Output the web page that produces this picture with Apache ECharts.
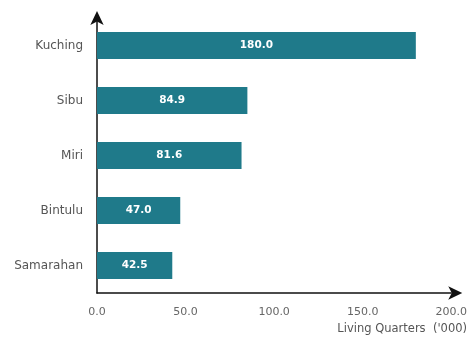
<!DOCTYPE html>
<html>
<head>
<meta charset="utf-8">
<script src="https://cdn.jsdelivr.net/npm/echarts@6/dist/echarts.min.js"></script>
<style>html,body{margin:0;padding:0;background:#fff;}#c{width:470px;height:338px;}</style>
</head>
<body>
<div id="c"></div>
<script>
const categories = ['Samarahan', 'Bintulu', 'Miri', 'Sibu', 'Kuching'];
const values = [42.5, 47.0, 81.6, 84.9, 180.0];
const axisTitle = "Living Quarters  ('000)";

const F = '"DejaVu Sans", "Noto Sans", sans-serif';
const chart = echarts.init(document.getElementById('c'), null, {renderer: 'canvas'});
chart.setOption({
  animation: false,
  backgroundColor: '#ffffff',
  textStyle: {fontFamily: F},
  title: {
    text: axisTitle,
    right: -2, bottom: -2,
    textStyle: {fontSize: 11.5, fontWeight: 'normal', color: '#555', fontFamily: F}
  },
  grid: {left: 97, right: 16, top: 18, bottom: 45, containLabel: false},
  xAxis: {
    type: 'value', min: 0, max: 200, interval: 50,
    axisLine: {show: true, lineStyle: {color: '#111', width: 1.5}, symbol: ['none', 'arrow'], symbolSize: [10, 14], symbolOffset: [0, 11]},
    axisTick: {show: false},
    splitLine: {show: false},
    axisLabel: {color: '#666', fontSize: 11, margin: 14, fontFamily: F, formatter: v => v.toFixed(1)}
  },
  yAxis: {
    type: 'category', data: categories,
    axisLine: {show: true, lineStyle: {color: '#111', width: 1.5}, symbol: ['none', 'arrow'], symbolSize: [10, 14], symbolOffset: [0, 7]},
    axisTick: {show: false},
    axisLabel: {color: '#555', fontSize: 12, margin: 14, fontFamily: F}
  },
  series: [{
    type: 'bar', data: values, barWidth: 27,
    itemStyle: {color: '#1f7a8a'},
    label: {show: true, position: 'inside', color: '#fff', fontWeight: 'bold', fontSize: 10.5, fontFamily: F, formatter: p => p.value.toFixed(1)}
  }]
});
</script>
</body>
</html>
